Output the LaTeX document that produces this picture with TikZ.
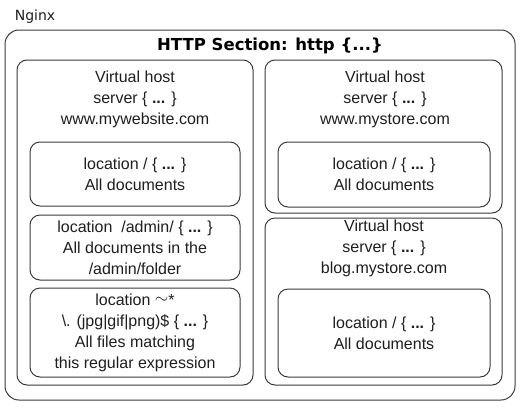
\documentclass[tikz,border=0pt]{standalone}
\usepackage{fontspec}
\setmainfont{Liberation Sans}
\newfontfamily\djv{DejaVu Sans}
\definecolor{linec}{HTML}{3A3A3A}
\definecolor{txtc}{HTML}{1E1E1E}
\newcommand{\dd}{\textbf{...}}
\begin{document}
\begin{tikzpicture}[x=1pt,y=-1pt,
  boxnode/.style={draw=linec, line width=1pt, rectangle, rounded corners=10pt, inner sep=0pt},
  txt/.style={text=txtc, align=center, font=\fontsize{16}{21}\selectfont, inner sep=0pt}]
\useasboundingbox (0,0) rectangle (521,407);
% outer
\node[boxnode, rounded corners=14pt, minimum width=510pt, minimum height=370pt] (outer) at (260,215) {};
\node[text=txtc, font=\djv\fontsize{14}{16}\selectfont, inner sep=0pt] (nginx) at (35,17) {Nginx};
\node[text=black, font=\djv\bfseries\fontsize{16.5}{18}\selectfont, inner sep=0pt] (title) at (270,46) {HTTP Section: http \{...\}};
% left virtual host
\node[boxnode, minimum width=236pt, minimum height=325pt] (vhl) at (135,222.5) {};
\node[txt] (vhltxt) at (135,99) {Virtual host\\server \{ \dd{} \}\\www.mywebsite.com};
\node[boxnode, txt, minimum width=210pt, minimum height=64pt] (locl) at (135,174) {location / \{ \dd{} \}\\All documents};
\node[boxnode, txt, minimum width=210pt, minimum height=65pt] (admin) at (135,247.5) {location\ \ /admin/ \{ \dd{} \}\\All documents in the\\/admin/folder};
\node[boxnode, txt, minimum width=210pt, minimum height=89pt] (regex) at (135,332.5) {location \raisebox{0.15ex}{$\sim$}*\\\textbackslash. (jpg|gif|png)\$ \{ \dd{} \}\\All files matching\\this regular expression};
% right top virtual host
\node[boxnode, minimum width=237pt, minimum height=153pt] (vhr) at (383.5,136.5) {};
\node[txt] (vhrtxt) at (385,99) {Virtual host\\server \{ \dd{} \}\\www.mystore.com};
\node[boxnode, txt, minimum width=212pt, minimum height=65pt] (locr) at (384,174.5) {location / \{ \dd{} \}\\All documents};
% right bottom virtual host
\node[boxnode, minimum width=237pt, minimum height=167pt] (vhb) at (383.5,301.5) {};
\node[txt] (vhbtxt) at (384,248) {Virtual host\\server \{ \dd{} \}\\blog.mystore.com};
\node[boxnode, txt, minimum width=212pt, minimum height=88pt] (locb) at (384,333) {location / \{ \dd{} \}\\All documents};
\end{tikzpicture}
\end{document}
